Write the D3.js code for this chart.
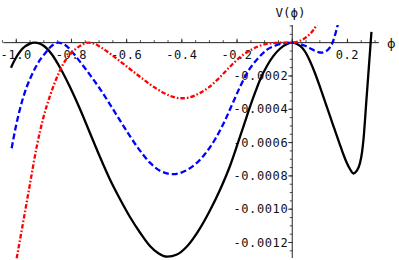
<!DOCTYPE html>
<html><head><meta charset="utf-8">
<script src="https://cdn.jsdelivr.net/npm/d3@7"></script>
<style>
html,body{margin:0;padding:0;background:#fff;}
svg{display:block;}
text{font-family:"DejaVu Sans Mono",monospace;}
</style></head>
<body>
<script>
// ---- data ----
const xTickValues = [-1.0, -0.8, -0.6, -0.4, -0.2, 0.2];
const xTickLabels = ["-1.0", "-0.8", "-0.6", "-0.4", "-0.2", "0.2"];
const yTickValues = [-0.0002, -0.0004, -0.0006, -0.0008, -0.0010, -0.0012];
const yTickLabels = ["-0.0002", "-0.0004", "-0.0006", "-0.0008", "-0.0010", "-0.0012"];

const blackPhi = [-1.0192,-1.0047,-0.9862,-0.9681,-0.9500,-0.9341,-0.9141,-0.8960,-0.8707,-0.8417,-0.8054,-0.7692,-0.7330,-0.6967,-0.6605,-0.6243,-0.5880,-0.5518,-0.5156,-0.4866,-0.4522,-0.4178,-0.3826,-0.3344,-0.2982,-0.2620,-0.2257,-0.1957,-0.1714,-0.1533,-0.1351,-0.1170,-0.0917,-0.0688,-0.0446,-0.0203,0,0.0170,0.0351,0.0496,0.0641,0.0822,0.1004,0.1185,0.1366,0.1529,0.1667,0.1764,0.1855,0.1971,0.2091,0.2217,0.2333,0.2453,0.2525,0.2580,0.2688,0.2779,0.2870];
const blackV   = [-0.0001502,-0.0001009,-0.0000529,-0.0000228,-0.0000054,0,-0.0000066,-0.0000246,-0.0000709,-0.0001489,-0.0002661,-0.0003982,-0.0005423,-0.0006865,-0.0008216,-0.0009387,-0.0010468,-0.0011399,-0.0012210,-0.0012631,-0.0012853,-0.0012721,-0.0012252,-0.0011147,-0.0010078,-0.0008847,-0.0007405,-0.0005964,-0.0004763,-0.0003862,-0.0003021,-0.0002240,-0.0001399,-0.0000811,-0.0000366,-0.0000096,0,-0.0000078,-0.0000288,-0.0000619,-0.0001099,-0.0001820,-0.0002661,-0.0003532,-0.0004402,-0.0005183,-0.0005844,-0.0006294,-0.0006715,-0.0007195,-0.0007586,-0.0007856,-0.0007706,-0.0007243,-0.0006625,-0.0005844,-0.0003441,-0.0001399,0.0000643];

const bluePhi = [-1.0167,-1.0011,-0.9866,-0.9685,-0.9504,-0.9322,-0.9141,-0.8960,-0.8779,-0.8634,-0.8478,-0.8315,-0.8134,-0.7935,-0.7692,-0.7449,-0.7221,-0.6967,-0.6605,-0.6243,-0.5880,-0.5518,-0.5156,-0.4793,-0.4312,-0.3888,-0.3525,-0.3163,-0.2801,-0.2438,-0.2138,-0.1859,-0.1533,-0.1243,-0.0928,-0.0627,-0.0326,0,0.0279,0.0460,0.0641,0.0859,0.1065,0.1221,0.1366,0.1486,0.1609,0.1728];
const blueV   = [-0.0006342,-0.0005003,-0.0003982,-0.0002961,-0.0002180,-0.0001550,-0.0001039,-0.0000649,-0.0000288,-0.0000090,0,-0.0000066,-0.0000264,-0.0000637,-0.0001141,-0.0001664,-0.0002180,-0.0002775,-0.0003706,-0.0004667,-0.0005616,-0.0006486,-0.0007207,-0.0007688,-0.0007898,-0.0007706,-0.0007315,-0.0006685,-0.0005814,-0.0004673,-0.0003562,-0.0002541,-0.0001550,-0.0000949,-0.0000438,-0.0000186,-0.0000042,0,-0.0000078,-0.0000186,-0.0000336,-0.0000517,-0.0000601,-0.0000523,-0.0000282,0.0000114,0.0000811,0.0001604];

const redPhi = [-0.9986,-0.9746,-0.9504,-0.9261,-0.9022,-0.8779,-0.8536,-0.8297,-0.8054,-0.7812,-0.7601,-0.7391,-0.7181,-0.6967,-0.6605,-0.6243,-0.5880,-0.5518,-0.5156,-0.4793,-0.4431,-0.4069,-0.3707,-0.3344,-0.3054,-0.2739,-0.2438,-0.2138,-0.1859,-0.1533,-0.1243,-0.0928,-0.0627,-0.0326,0,0.0279,0.0460,0.0641,0.0768,0.0884,0.0986];
const redV   = [-0.0012949,-0.0010739,-0.0008486,-0.0006264,-0.0004523,-0.0003201,-0.0002120,-0.0001279,-0.0000709,-0.0000336,-0.0000108,0,-0.0000054,-0.0000240,-0.0000649,-0.0001111,-0.0001580,-0.0002048,-0.0002498,-0.0002889,-0.0003189,-0.0003339,-0.0003279,-0.0003021,-0.0002721,-0.0002270,-0.0001760,-0.0001249,-0.0000829,-0.0000468,-0.0000228,-0.0000078,-0.0000018,-0.0000003,0,0.0000114,0.0000270,0.0000523,0.0000763,0.0001063,0.0001423];

const W = 399, H = 260;
const x = d3.scaleLinear().domain([-1.047, 0.314]).range([3.3, 378.9]);
const y = d3.scaleLinear().domain([-0.001293, 0.000106]).range([258, 25]);

const svg = d3.select("body").append("svg").attr("width", W).attr("height", H);

svg.append("defs").append("clipPath").attr("id","clip")
  .append("rect").attr("x",0).attr("y",25).attr("width",W).attr("height",H-25);

// axes
const axisColor = "#222";
const x0 = x(0), y0 = y(0);
const ax = svg.append("g");
ax.append("line").attr("x1", x.range()[0]).attr("x2", x.range()[1]).attr("y1", y0).attr("y2", y0)
  .attr("stroke", axisColor).attr("stroke-width", 1);
ax.append("line").attr("x1", x0).attr("x2", x0).attr("y1", y.range()[1]).attr("y2", y.range()[0])
  .attr("stroke", axisColor).attr("stroke-width", 1);

// x ticks
const xMinor = d3.range(-1.05, 0.3001, 0.05);
ax.selectAll(".xm").data(xMinor).enter().append("line")
  .attr("x1", d => x(d)).attr("x2", d => x(d)).attr("y1", y0).attr("y2", y0 - 2.5)
  .attr("stroke", axisColor).attr("stroke-width", 0.8);
ax.selectAll(".xM").data(xTickValues.concat([0])).enter().append("line")
  .attr("x1", d => x(d)).attr("x2", d => x(d)).attr("y1", y0).attr("y2", y0 - 4)
  .attr("stroke", axisColor).attr("stroke-width", 0.9);
ax.selectAll(".xl").data(xTickValues).enter().append("text")
  .attr("x", (d) => x(d)).attr("y", y0 + 16.5)
  .attr("text-anchor", "middle").attr("font-size", 12).attr("letter-spacing", 0.6)
  .attr("fill", "#111")
  .text((d, i) => xTickLabels[i]);

// y ticks
const yMinor = d3.range(-0.00125, 0.000101, 0.00005);
ax.selectAll(".ym").data(yMinor).enter().append("line")
  .attr("x1", x0).attr("x2", x0 - 2.5).attr("y1", d => y(d)).attr("y2", d => y(d))
  .attr("stroke", axisColor).attr("stroke-width", 0.8);
ax.selectAll(".yM").data(yTickValues.concat([0])).enter().append("line")
  .attr("x1", x0).attr("x2", x0 - 4).attr("y1", d => y(d)).attr("y2", d => y(d))
  .attr("stroke", axisColor).attr("stroke-width", 0.9);
ax.selectAll(".yl").data(yTickValues).enter().append("text")
  .attr("x", x0 - 4).attr("y", d => y(d) + 4.2)
  .attr("text-anchor", "end").attr("font-size", 12).attr("letter-spacing", 0.6)
  .attr("fill", "#111")
  .text((d, i) => yTickLabels[i]);

// axis labels
svg.append("text").attr("x", 290.5).attr("y", 17).attr("text-anchor","middle")
  .attr("font-size", 12.5).attr("fill","#111").text("V(ϕ)");
svg.append("text").attr("x", 387).attr("y", 47.5).attr("text-anchor","start")
  .attr("font-size", 13).attr("fill","#111").style("font-family","DejaVu Sans").text("ϕ");

// curves
const line = d3.line().x(d => x(d[0])).y(d => y(d[1])).curve(d3.curveMonotoneX);
const plot = svg.append("g").attr("clip-path","url(#clip)");
const series = [
  {phi: blackPhi, v: blackV, color: "#000", dash: null},
  {phi: bluePhi, v: blueV, color: "#0000ff", dash: "6,3"},
  {phi: redPhi, v: redV, color: "#ff0000", dash: "4.5,2,1.6,2"}
];
series.forEach(s => {
  const pts = s.phi.map((p, i) => [p, s.v[i]]);
  const p = plot.append("path").datum(pts).attr("d", line)
    .attr("fill","none").attr("stroke", s.color).attr("stroke-width", 2.3)
    .attr("stroke-linejoin","round");
  if (s.dash) p.attr("stroke-dasharray", s.dash);
});
</script>
</body></html>
